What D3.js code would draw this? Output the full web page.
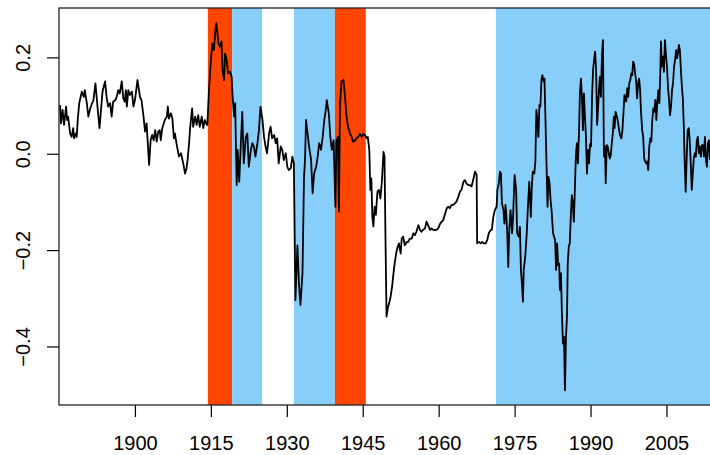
<!DOCTYPE html>
<html>
<head>
<meta charset="utf-8">
<script src="https://cdn.jsdelivr.net/npm/d3@7"></script>
<style>
  html, body { margin: 0; padding: 0; background: #fff; }
  svg { display: block; font-family: "Liberation Sans", Arial, Helvetica, sans-serif; }
</style>
</head>
<body>
<svg id="chart" width="710" height="455"></svg>
<script>
// Series: observation dates (decimal years) and deviations
const years = [
  1885.2,1885.4,1885.7,1886.0,1886.4,1886.6,1886.8,1887.2,1887.5,1887.8,1888.0,1888.3,1888.5,1888.7,1889.0,1889.5,1889.9,
  1890.1,1890.5,1890.8,1891.1,1891.4,1891.8,1892.2,1892.6,1893.0,1893.3,1893.6,1894.1,1894.4,1894.7,1895.1,1895.4,1895.7,
  1896.1,1896.4,1896.7,1897.0,1897.4,1897.7,1898.0,1898.2,1898.4,1898.7,1899.0,1899.4,1899.7,1900.0,1900.5,1901.0,1901.3,
  1901.7,1902.0,1902.3,1902.8,1903.1,1903.4,1903.7,1904.0,1904.3,1904.6,1904.9,1905.1,1905.4,1905.9,1906.3,1906.5,1906.7,
  1907.1,1907.4,1907.7,1907.9,1908.2,1908.7,1909.1,1909.6,1909.9,1910.2,1910.4,1910.7,1910.9,1911.3,1911.5,1911.9,1912.2,
  1912.5,1912.8,1913.2,1913.5,1913.8,1914.2,
  1914.3,1914.6,1914.96,1915.3,1915.6,1915.9,1916.1,1916.5,1916.8,1917.1,1917.3,1917.6,1917.8,1918.1,1918.4,1918.8,1919.1,
  1919.3,1919.6,1919.8,1920.1,1920.3,1920.6,1920.9,1921.2,1921.5,1921.9,1922.2,1922.5,1922.9,1923.2,1923.5,1923.8,1924.2,
  1924.5,1924.8,1925.2,1925.5,1925.8,1926.1,1926.5,1926.8,1927.1,1927.5,1927.8,1928.1,1928.4,1928.8,1929.1,1929.4,1929.8,
  1930.1,1930.4,1930.8,1931.1,1931.4,1931.7,1932.1,1932.4,1932.7,1933.1,1933.4,1933.6,1933.8,1934.1,1934.4,1934.8,1935.1,
  1935.4,1935.8,1936.1,1936.4,1936.75,1937.1,1937.4,1937.7,1937.9,1938.3,1938.6,1938.9,1939.25,1939.6,1939.8,1940.1,1940.3,
  1940.5,1940.8,1941.2,1941.5,1941.8,1942.1,1942.5,1942.8,1943.1,1943.5,1943.8,1944.1,1944.45,1944.8,1945.1,1945.4,1945.8,
  1946.0,1946.3,1946.5,1946.7,1946.9,1947.1,1947.35,1947.6,1947.9,1948.2,1948.5,1948.8,1949.1,1949.3,1949.5,1949.7,1950.0,
  1950.2,1950.5,1950.8,1951.0,1951.3,1951.6,1951.9,1952.15,1952.5,1952.7,1953.0,1953.3,1953.7,1954.0,1954.3,1954.7,1955.0,
  1955.3,1955.6,1956.0,1956.3,1956.6,1956.9,1957.3,1957.6,1957.9,1958.3,1958.6,1958.9,1959.3,1959.6,1959.9,1960.3,1960.6,
  1960.9,1961.2,1961.6,1961.9,1962.2,1962.55,1962.9,1963.2,1963.5,1963.9,1964.2,1964.5,1964.9,1965.2,1965.5,1965.85,1966.2,
  1966.5,1966.8,1967.2,1967.5,1967.6,1967.95,1968.3,1968.6,1968.9,1969.3,1969.6,1969.9,1970.3,
  1970.5,1970.8,1971.1,1971.45,1971.6,1971.9,1972.1,1972.3,1972.5,1972.8,1973.0,1973.2,1973.35,1973.55,1973.75,1973.95,
  1974.2,1974.5,1974.7,1975.0,1975.3,1975.5,1975.8,1976.05,1976.25,1976.45,1976.65,1976.8,1977.1,1977.4,1977.6,1977.9,
  1978.2,1978.4,1978.6,1978.9,1979.1,1979.3,1979.5,1979.7,1979.9,1980.1,1980.3,1980.5,1980.7,1980.9,1981.1,1981.3,1981.5,
  1981.7,1981.9,1982.1,1982.3,1982.6,1983.0,1983.2,1983.4,1983.6,1983.8,1983.95,1984.15,1984.35,1984.55,1984.75,1984.95,
  1985.15,1985.35,1985.5,1985.7,1985.9,1986.1,1986.3,1986.5,1986.7,1986.9,1987.1,1987.3,1987.5,1987.7,1987.9,1988.1,1988.3,
  1988.5,1988.7,1988.9,1989.1,1989.3,1989.5,1989.7,
  1989.9,1990.1,1990.3,1990.5,1990.7,1990.9,1991.1,1991.3,1991.5,1991.7,1991.85,1992.05,1992.25,1992.45,1992.65,1992.85,
  1993.0,1993.2,1993.4,1993.6,1993.8,1994.0,1994.2,1994.4,1994.6,1994.75,1994.95,1995.15,1995.35,1995.5,1995.8,1996.1,
  1996.3,1996.5,1996.7,1996.9,1997.05,1997.25,1997.45,1997.65,1997.85,1998.05,1998.25,1998.4,1998.6,1998.8,1999.0,1999.2,
  1999.4,1999.6,1999.8,1999.95,2000.2,2000.4,2000.6,2000.8,2001.0,2001.2,2001.4,2001.6,2001.8,2002.0,2002.2,2002.4,2002.6,
  2002.8,2003.0,2003.2,2003.4,2003.6,2003.8,2003.9,2004.1,2004.3,2004.5,2004.7,2004.9,2005.1,2005.3,2005.5,2005.7,2005.9,
  2006.1,2006.3,2006.5,2006.7,2006.9,2007.1,2007.25,2007.45,2007.65,2007.85,2008.05,2008.25,2008.45,2008.6,2008.8,2009.0,
  2009.2,2009.4,2009.6,2009.8,2010.0,2010.2,2010.4,2010.6,2010.8,2011.0,2011.2,2011.4,2011.6,2011.8,2012.0,2012.2,2012.4,
  2012.6,2012.8,2013.0,2013.2,2013.4,2013.6
];

const values = [
  0.101,0.063,0.091,0.060,0.098,0.070,0.077,0.042,0.035,0.053,0.032,0.042,0.035,0.070,0.105,0.129,0.118,
  0.132,0.105,0.077,0.091,0.101,0.111,0.146,0.098,0.053,0.091,0.129,0.150,0.118,0.098,0.105,0.077,0.108,
  0.111,0.118,0.132,0.125,0.150,0.115,0.108,0.132,0.098,0.132,0.122,0.129,0.098,0.111,0.153,0.118,0.111,
  0.077,0.046,0.063,-0.023,0.028,0.039,0.028,0.049,0.025,0.046,0.049,0.028,0.053,0.070,0.077,0.098,0.073,
  0.084,0.073,0.032,0.042,0.022,-0.006,0.001,-0.023,-0.041,-0.030,-0.013,0.022,0.053,0.094,0.056,0.077,0.060,
  0.080,0.056,0.077,0.053,0.070,0.060,
  0.060,0.125,0.188,0.229,0.215,0.257,0.271,0.229,0.222,0.233,0.174,0.153,0.208,0.195,0.167,0.170,0.160,
  0.118,0.077,0.105,-0.065,0.008,-0.058,0.015,0.087,-0.020,0.035,0.042,-0.027,0.008,0.022,0.015,-0.006,0.022,
  0.049,0.098,0.070,0.035,0.015,0.001,0.042,0.056,0.032,0.039,0.022,0.032,-0.020,0.015,0.008,-0.013,0.001,
  -0.027,-0.034,-0.030,-0.006,-0.020,-0.304,-0.190,-0.269,-0.314,-0.248,-0.048,-0.013,0.070,0.042,0.015,-0.013,-0.082,
  -0.041,-0.027,-0.006,0.022,0.008,0.035,0.070,0.091,0.111,0.084,0.035,0.008,0.028,-0.110,0.025,0.035,-0.120,
  0.098,0.150,0.153,0.118,0.077,0.056,0.042,0.035,0.025,0.028,0.032,0.035,0.041,0.035,0.041,0.039,0.032,
  0.035,0.008,-0.075,-0.051,-0.131,-0.151,-0.110,-0.127,-0.079,-0.075,-0.093,-0.055,0.004,-0.006,-0.179,-0.338,-0.318,
  -0.311,-0.297,-0.276,-0.255,-0.228,-0.207,-0.193,-0.186,-0.207,-0.176,-0.172,-0.190,-0.183,-0.183,-0.176,-0.176,-0.165,
  -0.169,-0.162,-0.148,-0.158,-0.162,-0.158,-0.155,-0.141,-0.148,-0.158,-0.155,-0.158,-0.158,-0.158,-0.155,-0.145,-0.141,
  -0.138,-0.127,-0.113,-0.110,-0.113,-0.106,-0.106,-0.103,-0.100,-0.089,-0.079,-0.075,-0.058,-0.055,-0.062,-0.065,-0.065,
  -0.068,-0.055,-0.037,-0.044,-0.186,-0.183,-0.186,-0.183,-0.186,-0.186,-0.179,-0.165,-0.158,
  -0.158,-0.131,-0.117,-0.110,-0.075,-0.061,-0.037,-0.041,-0.103,-0.117,-0.145,-0.106,-0.124,-0.165,-0.235,-0.158,
  -0.117,-0.165,-0.131,-0.044,-0.075,-0.165,-0.172,-0.152,-0.241,-0.269,-0.307,-0.241,-0.214,-0.165,-0.117,-0.058,
  -0.131,-0.068,-0.037,-0.041,-0.016,0.091,0.070,0.035,0.101,0.098,0.153,0.163,0.150,0.156,0.070,-0.020,-0.110,
  -0.048,-0.061,-0.096,-0.117,-0.165,-0.179,-0.241,-0.186,-0.231,-0.228,-0.283,-0.248,-0.332,-0.394,-0.380,-0.491,
  -0.380,-0.338,-0.228,-0.193,-0.186,-0.131,-0.086,-0.103,-0.141,-0.075,-0.006,0.022,-0.020,0.035,0.125,0.156,0.118,
  0.049,0.125,0.077,0.035,-0.041,0.008,-0.020,
  0.020,0.015,0.118,0.174,0.195,0.212,0.174,0.060,0.098,0.139,0.160,0.118,0.202,0.236,-0.006,0.015,
  -0.061,0.018,0.015,0.001,-0.010,-0.003,0.022,0.042,0.077,0.053,0.087,0.080,0.070,0.060,0.039,0.032,
  0.049,0.084,0.122,0.118,0.108,0.136,0.118,0.146,0.153,0.167,0.163,0.191,0.188,0.167,0.153,0.115,
  0.146,0.156,0.132,0.091,0.049,0.035,-0.010,-0.016,-0.020,-0.016,-0.034,0.015,0.032,0.025,0.070,0.094,0.087,
  0.112,0.070,0.108,0.132,0.105,0.174,0.233,0.181,0.202,0.170,0.236,0.205,0.181,0.139,0.112,0.080,0.098,
  0.132,0.146,0.181,0.195,0.215,0.198,0.208,0.226,0.215,0.174,0.139,0.112,0.049,-0.020,-0.079,-0.006,
  0.049,0.053,0.028,-0.020,-0.075,-0.041,-0.010,0.001,-0.006,0.028,0.035,0.001,0.015,-0.006,0.018,0.018,-0.006,
  0.035,-0.013,-0.027,0.022,0.028,-0.013
];

// Shaded periods: wartime and floating-rate intervals
const periodStart = [1914.4, 1919.2, 1931.4, 1939.5, 1971.3];
const periodEnd   = [1919.2, 1925.1, 1939.5, 1945.6, 2016];
const periodKind  = ["war", "float", "float", "war", "float"];

const xTicks = [1900, 1915, 1930, 1945, 1960, 1975, 1990, 2005];
const yTicks = [-0.4, -0.2, 0.0, 0.2];

const kindColor = { war: "#FF4500", float: "#87CEFA" };

const svg = d3.select("#chart");
const W = 710, H = 455;
const plot = { left: 59, top: 8, right: 710, bottom: 405 };

svg.append("rect").attr("width", W).attr("height", H).attr("fill", "#fff");

const x = d3.scaleLinear().domain([1885.0, 2013.6]).range([plot.left, plot.right]);
const y = d3.scaleLinear().domain([-0.5215, 0.3025]).range([plot.bottom, plot.top]);

svg.append("defs").append("clipPath").attr("id", "plotClip")
  .append("rect")
  .attr("x", plot.left).attr("y", plot.top)
  .attr("width", plot.right - plot.left + 20).attr("height", plot.bottom - plot.top);

const inner = svg.append("g").attr("clip-path", "url(#plotClip)");

// Shaded bands
const periods = periodStart.map((s, i) => ({ start: s, end: periodEnd[i], kind: periodKind[i] }));
inner.selectAll("rect.band")
  .data(periods)
  .join("rect")
  .attr("class", "band")
  .attr("x", d => x(d.start))
  .attr("width", d => x(d.end) - x(d.start))
  .attr("y", y(y.domain()[1]))
  .attr("height", y(y.domain()[0]) - y(y.domain()[1]))
  .attr("fill", d => kindColor[d.kind]);

// Series line
const series = years.map((t, i) => ({ t, v: values[i] }));
inner.append("path")
  .datum(series)
  .attr("fill", "none")
  .attr("stroke", "#000")
  .attr("stroke-width", 1.8)
  .attr("stroke-linejoin", "round")
  .attr("d", d3.line().x(d => x(d.t)).y(d => y(d.v)));

// Axes
const fontSize = 20;
const xAxis = svg.append("g")
  .attr("transform", `translate(0,${plot.bottom})`)
  .call(d3.axisBottom(x).tickValues(xTicks).tickSize(12).tickFormat(d3.format("d")));
xAxis.select(".domain").remove();
xAxis.selectAll(".tick line").attr("stroke", "#000").attr("stroke-width", 1.2);
xAxis.selectAll(".tick text")
  .attr("y", 45).attr("dy", null)
  .attr("fill", "#000")
  .style("font-size", fontSize + "px")
  .style("font-family", "Liberation Sans, Arial, sans-serif");

const yAxis = svg.append("g")
  .attr("transform", `translate(${plot.left},0)`)
  .call(d3.axisLeft(y).tickValues(yTicks).tickSize(12).tickFormat(d3.format(".1f")));
yAxis.select(".domain").remove();
yAxis.selectAll(".tick line").attr("stroke", "#000").attr("stroke-width", 1.2);
yAxis.selectAll(".tick text")
  .attr("x", null).attr("dy", null)
  .attr("text-anchor", "middle")
  .attr("transform", "translate(-29,0) rotate(-90)")
  .attr("fill", "#000")
  .style("font-size", fontSize + "px")
  .style("font-family", "Liberation Sans, Arial, sans-serif");

// Plot frame (extends past the right edge)
svg.append("rect")
  .attr("x", plot.left).attr("y", plot.top)
  .attr("width", plot.right - plot.left + 20).attr("height", plot.bottom - plot.top)
  .attr("fill", "none")
  .attr("stroke", "#222")
  .attr("stroke-width", 1.3);
</script>
</body>
</html>
